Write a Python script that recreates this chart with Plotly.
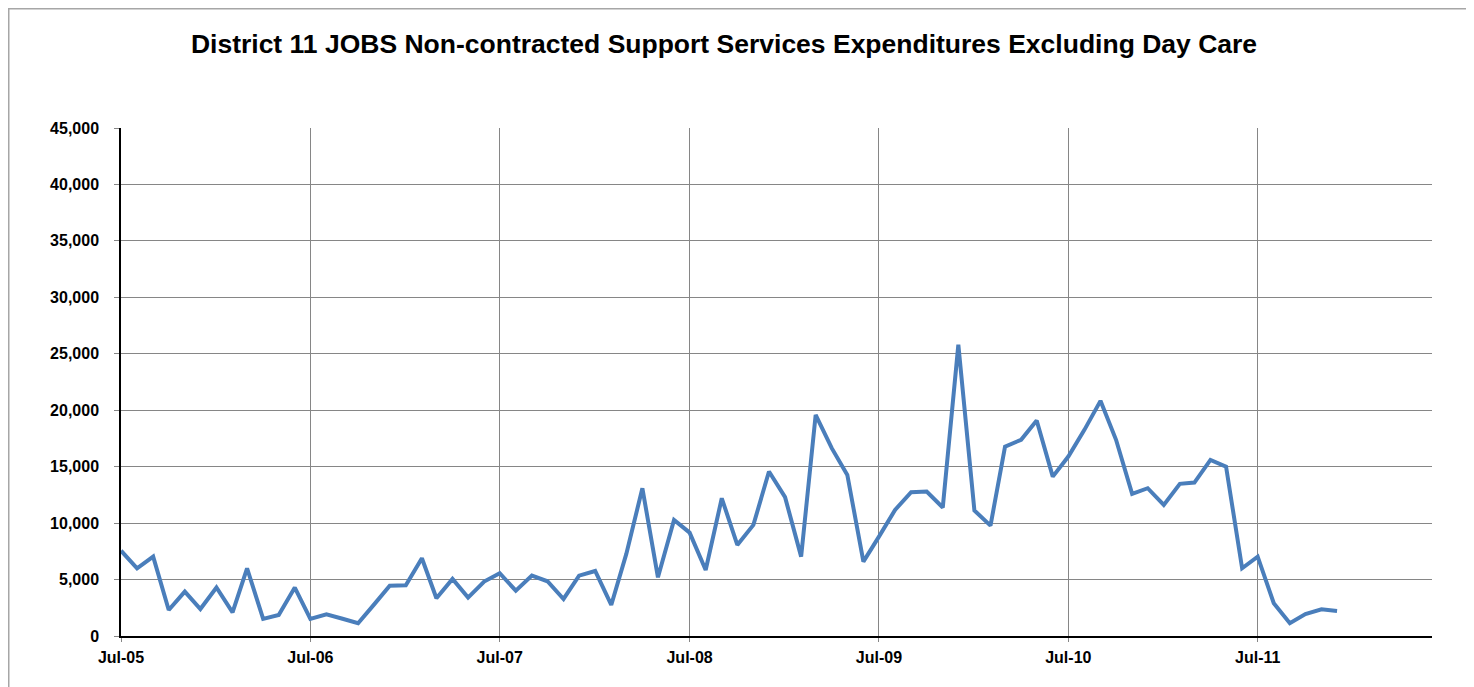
import pandas as pd
import plotly.graph_objects as go

title = "District 11 JOBS Non-contracted Support Services Expenditures Excluding Day Care"
start_month = "2005-07-01"
values = [
    7560, 6000, 7030, 2300, 3930, 2390, 4300, 2100, 6000, 1510, 1860, 4290,
    1510, 1920, 1530, 1130, 2800, 4460, 4500, 6890, 3340, 5050, 3400, 4820,
    5560, 4020, 5350, 4850, 3280, 5350, 5760, 2750, 7270, 13090, 5200, 10280,
    9160, 5850, 12200, 8070, 9840, 14570, 12300, 7030, 19590, 16640, 14270, 6590,
    8800, 11170, 12740, 12800, 11380, 25800, 11110, 9780, 16780, 17380, 19090, 14120,
    15900, 18260, 20830, 17380, 12590, 13090, 11610, 13480, 13590, 15600, 15010, 6000,
    7030, 2900, 1130, 1950, 2370, 2220,
]
months = pd.date_range(start_month, periods=len(values), freq="MS")
x_range = ["2005-07-01", "2012-06-01"]
y_range = [0, 45000]

# the page body adds an 8px offset; figure is sized to fit the window
W, H = 1466, 679
ml, mr, mt, mb = 113, 42, 120, 51
pw, ph = W - ml - mr, H - mt - mb

fig = go.Figure()
fig.add_trace(go.Scatter(
    x=months, y=values, mode="lines",
    line=dict(color="#4a7ebb", width=4),
    showlegend=False,
))

font_family = "Arial, Liberation Sans, sans-serif"
fig.update_layout(
    width=W, height=H,
    margin=dict(l=ml, r=mr, t=mt, b=mb),
    paper_bgcolor="white", plot_bgcolor="white",
    font=dict(family=font_family, color="black"),
    title=dict(
        text="<b>" + title + "</b>",
        x=716 / W, xanchor="center",
        y=1 - 36 / H, yanchor="middle", yref="container",
        font=dict(size=26.5, family=font_family, color="black"),
    ),
    xaxis=dict(
        type="date", range=x_range,
        tick0="2005-07-01", dtick="M12", tickformat="%b-%y",
        showgrid=True, gridcolor="#868686", gridwidth=1,
        showline=True, linecolor="black", linewidth=1.5,
        ticks="outside", ticklen=4, tickcolor="#868686",
        tickfont=dict(size=16, family=font_family, color="black", weight="bold"),
        zeroline=False, ticklabelstandoff=2,
    ),
    yaxis=dict(
        range=y_range, dtick=5000, tickformat=",",
        showgrid=True, gridcolor="#868686", gridwidth=1,
        showline=True, linecolor="black", linewidth=1.5,
        ticks="outside", ticklen=5, tickcolor="#868686",
        tickfont=dict(size=16, family=font_family, color="black", weight="bold"),
        zeroline=False, ticklabelstandoff=12,
    ),
)

# outer chart frame
fig.add_shape(
    type="rect", xref="paper", yref="paper",
    x0=(0.75 - ml) / pw, x1=(W + 10 - ml) / pw,
    y0=(H - mb - 0.75) / ph, y1=(H - mb - (H + 10)) / ph,
    line=dict(color="#a6a6a6", width=1.5), fillcolor="rgba(0,0,0,0)",
    layer="below",
)

fig.write_html("out.html")
